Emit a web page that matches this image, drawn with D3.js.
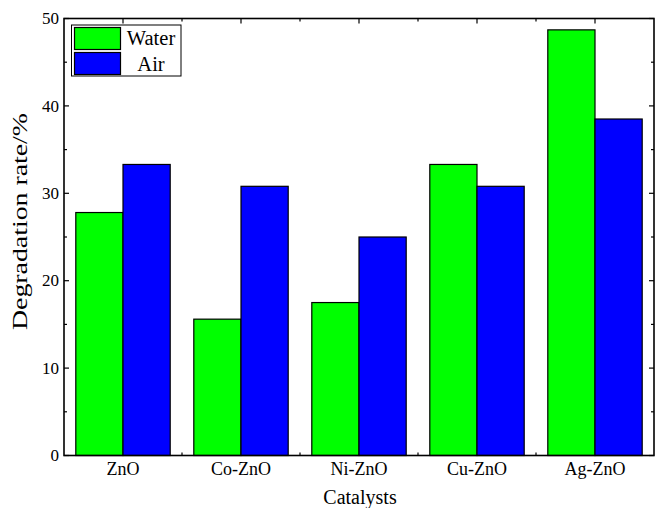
<!DOCTYPE html>
<html>
<head>
<meta charset="utf-8">
<script src="https://cdn.jsdelivr.net/npm/d3@7"></script>
<style>
  html, body { margin: 0; padding: 0; background: #fff; }
  svg { display: block; }
  text { font-family: "Liberation Serif", "Times New Roman", serif; fill: #000; }
</style>
</head>
<body>
<svg id="chart" width="656" height="508"></svg>
<script>
// Degradation rate of each catalyst in water vs. air
const categories = ["ZnO", "Co-ZnO", "Ni-ZnO", "Cu-ZnO", "Ag-ZnO"];
const seriesNames = ["Water", "Air"];
const waterValues = [27.8, 15.6, 17.5, 33.3, 48.7];
const airValues = [33.3, 30.8, 25.0, 30.8, 38.5];
const yTicks = [0, 10, 20, 30, 40, 50];
const yMinorTicks = [5, 15, 25, 35, 45];

const colors = { Water: "#00ff00", Air: "#0000ff" };

const svg = d3.select("#chart");
const plotLeft = 64, plotRight = 654, plotTop = 18.5, plotBottom = 455.5;

const x = d3.scaleBand().domain(categories).range([plotLeft, plotRight])
  .paddingInner(0.2).paddingOuter(0.1);
const xSub = d3.scaleBand().domain(seriesNames).range([0, x.bandwidth()]);
const y = d3.scaleLinear().domain([0, 50]).range([plotBottom, plotTop]);

const rows = categories.map((c, i) => ({ cat: c, Water: waterValues[i], Air: airValues[i] }));

// Ticks on all four sides, pointing inward
const tickG = svg.append("g").attr("stroke", "#000").attr("stroke-width", 1.2);
yTicks.forEach(v => {
  tickG.append("line").attr("x1", plotLeft).attr("x2", plotLeft + 5).attr("y1", y(v)).attr("y2", y(v));
  tickG.append("line").attr("x1", plotRight).attr("x2", plotRight - 5).attr("y1", y(v)).attr("y2", y(v));
});
yMinorTicks.forEach(v => {
  tickG.append("line").attr("x1", plotLeft).attr("x2", plotLeft + 3).attr("y1", y(v)).attr("y2", y(v));
  tickG.append("line").attr("x1", plotRight).attr("x2", plotRight - 3).attr("y1", y(v)).attr("y2", y(v));
});
const step = x.step();
categories.forEach((c, i) => {
  const cx = x(c) + x.bandwidth() / 2;
  tickG.append("line").attr("x1", cx).attr("x2", cx).attr("y1", plotTop).attr("y2", plotTop + 5);
  tickG.append("line").attr("x1", cx).attr("x2", cx).attr("y1", plotBottom).attr("y2", plotBottom - 5);
  if (i < categories.length - 1) {
    const mx = cx + step / 2;
    tickG.append("line").attr("x1", mx).attr("x2", mx).attr("y1", plotTop).attr("y2", plotTop + 3);
    tickG.append("line").attr("x1", mx).attr("x2", mx).attr("y1", plotBottom).attr("y2", plotBottom - 3);
  }
});

// Bars
const groups = svg.append("g").selectAll("g").data(rows).join("g")
  .attr("transform", d => `translate(${x(d.cat)},0)`);
groups.selectAll("rect").data(d => seriesNames.map(s => ({ s, v: d[s] }))).join("rect")
  .attr("x", d => xSub(d.s))
  .attr("y", d => y(d.v))
  .attr("width", xSub.bandwidth())
  .attr("height", d => y(0) - y(d.v))
  .attr("fill", d => colors[d.s])
  .attr("stroke", "#000")
  .attr("stroke-width", 1.2);

// Frame
svg.append("rect").attr("x", plotLeft).attr("y", plotTop)
  .attr("width", plotRight - plotLeft).attr("height", plotBottom - plotTop)
  .attr("fill", "none").attr("stroke", "#000").attr("stroke-width", 1.6);

// Y tick labels
svg.append("g").selectAll("text").data(yTicks).join("text")
  .attr("x", plotLeft - 5).attr("y", d => y(d)).attr("dy", "0.34em")
  .attr("text-anchor", "end").attr("font-size", 17).text(d => d);

// X tick labels
svg.append("g").selectAll("text").data(categories).join("text")
  .attr("x", d => x(d) + x.bandwidth() / 2).attr("y", 475)
  .attr("text-anchor", "middle").attr("font-size", 18).text(d => d);

// Axis titles
svg.append("text").attr("x", (plotLeft + plotRight) / 2 + 1).attr("y", 504)
  .attr("text-anchor", "middle").attr("font-size", 20).text("Catalysts");
svg.append("text")
  .attr("transform", `translate(27,${(113 + 330) / 2}) rotate(-90)`)
  .attr("text-anchor", "middle").attr("font-size", 20).text("Degradation rate/%")
  .attr("textLength", 217).attr("lengthAdjust", "spacingAndGlyphs");

// Legend
const lg = svg.append("g");
lg.append("rect").attr("x", 71.5).attr("y", 25).attr("width", 109.5).attr("height", 51)
  .attr("fill", "#fff").attr("stroke", "#000").attr("stroke-width", 1);
seriesNames.forEach((s, i) => {
  const yy = 27.5 + i * 25;
  lg.append("rect").attr("x", 74.5).attr("y", yy).attr("width", 46).attr("height", 22)
    .attr("fill", colors[s]).attr("stroke", "#000").attr("stroke-width", 1.2);
  lg.append("text").attr("x", 151).attr("y", 45 + i * 26.3)
    .attr("text-anchor", "middle").attr("font-size", 20.5).text(s);
});
</script>
</body>
</html>
